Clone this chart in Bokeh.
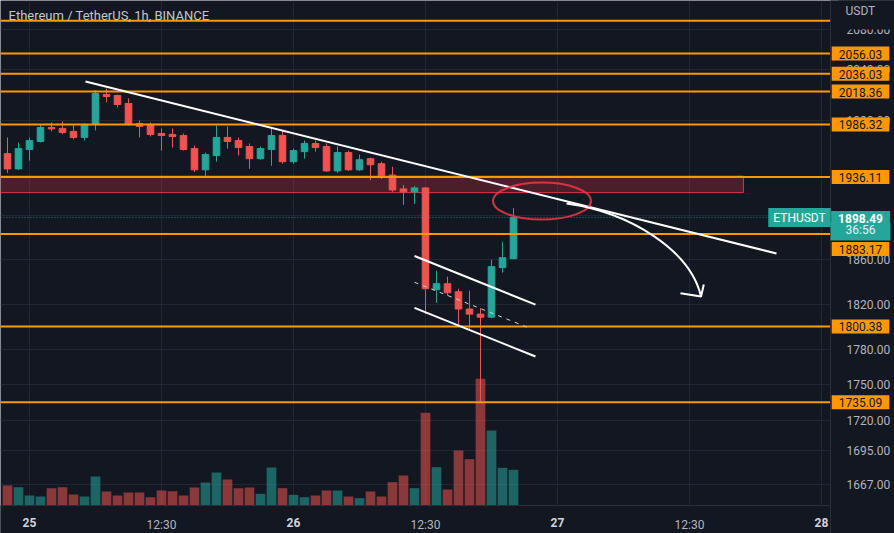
from bokeh.plotting import figure
from bokeh.models import (Range1d, LinearScale, FixedTicker, PrintfTickFormatter,
                          Label, LinearAxis)
from bokeh.embed import file_html
from bokeh.resources import INLINE

# ---------------- data ----------------
hours = list(range(-2, 45))  # bar index, 0 = "25" (00:30)
opens = [1958.3, 1943.8, 1962.2, 1969.9, 1983.4, 1982.5, 1979.6, 1973.8, 1986.3, 2015.4,
         2014.5, 2006.7, 1987.3, 1986.3, 1977.6, 1976.7, 1975.7, 1963.1, 1942.9, 1956.4,
         1973.8, 1970.9, 1965.1, 1953.5, 1962.2, 1975.7, 1950.6, 1960.2, 1968.0, 1965.1,
         1941.9, 1959.3, 1942.9, 1953.5, 1948.7, 1938.0, 1925.0, 1922.2, 1925.9, 1832.8,
         1838.2, 1831.0, 1815.7, 1811.2, 1808.5, 1852.6, 1860.7]
highs = [1973.8, 1968.9, 1973.8, 1986.3, 1988.3, 1989.2, 1986.3, 1987.3, 2019.4, 2021.3,
         2015.4, 2011.6, 1990.2, 1988.3, 1982.5, 1982.5, 1977.6, 1966.0, 1959.3, 1985.4,
         1984.4, 1973.8, 1968.0, 1965.1, 1983.4, 1980.5, 1963.1, 1970.9, 1970.9, 1968.0,
         1965.1, 1961.2, 1957.4, 1954.5, 1950.6, 1945.8, 1928.7, 1927.8, 1926.8, 1849.9,
         1844.5, 1833.7, 1831.9, 1816.6, 1859.8, 1876.0, 1907.3]
lows = [1940.0, 1942.9, 1951.6, 1968.9, 1979.6, 1976.7, 1971.8, 1970.9, 1980.5, 2007.7,
        2002.8, 1985.4, 1973.8, 1974.7, 1961.2, 1964.1, 1961.2, 1940.9, 1937.1, 1950.6,
        1963.1, 1956.4, 1943.8, 1952.5, 1946.7, 1948.7, 1948.7, 1953.5, 1960.2, 1940.9,
        1940.0, 1941.9, 1941.9, 1933.3, 1934.3, 1922.2, 1910.1, 1911.0, 1811.2, 1821.1,
        1827.4, 1800.4, 1797.8, 1735.09, 1807.6, 1848.1, 1860.7]
closes = [1943.8, 1963.1, 1970.9, 1983.4, 1982.0, 1978.6, 1973.8, 1986.3, 2016.4, 2013.5,
          2005.7, 1986.3, 1984.4, 1976.7, 1975.7, 1974.7, 1962.2, 1942.9, 1957.4, 1973.8,
          1969.9, 1964.1, 1953.5, 1963.1, 1975.7, 1950.6, 1961.2, 1968.0, 1964.1, 1941.9,
          1959.3, 1942.9, 1952.5, 1947.7, 1936.1, 1924.0, 1922.2, 1925.9, 1833.7, 1838.2,
          1830.1, 1815.7, 1811.2, 1808.5, 1853.5, 1861.6, 1898.49]
volumes = [3.0, 2.75, 1.5, 1.35, 2.6, 2.75, 1.65, 1.35, 4.35, 2.1,
           1.5, 1.95, 1.95, 1.25, 2.25, 2.15, 1.5, 2.7, 3.45, 4.95,
           3.9, 2.6, 2.7, 1.75, 5.7, 2.6, 1.6, 1.25, 1.5, 2.25,
           2.25, 1.35, 1.1, 2.1, 1.35, 3.5, 4.5, 2.6, 13.9, 5.75,
           2.4, 8.25, 6.95, 19.0, 11.25, 5.65, 5.35]

day_ticks = [0, 24, 48, 72]
day_labels = ["25", "26", "27", "28"]
half_ticks = [12, 36, 60]
half_labels = ["12:30", "12:30", "12:30"]
y_ticks = [1667, 1695, 1720, 1750, 1780, 1820, 1860, 1900, 1990, 2040, 2080]

levels = [2089.0, 2056.03, 2036.03, 2018.36, 1986.32, 1936.11, 1883.17, 1800.38, 1735.09]
labelled_levels = [2056.03, 2036.03, 2018.36, 1986.32, 1936.11, 1883.17, 1800.38, 1735.09]
last_price = 1898.49
countdown = "36:56"
symbol = "ETHUSDT"
currency = "USDT"
title = "Ethereum / TetherUS, 1h, BINANCE"

zone_x = [-10.0, 64.9]
zone_y = [1921.5, 1937.0]

trend_x = [5.09, 67.91]
trend_y = [2028.2, 1865.4]
chan_up_x = [35.0, 46.0]
chan_up_y = [1863.1, 1819.6]
chan_lo_x = [35.0, 46.0]
chan_lo_y = [1816.7, 1774.2]
chan_mid_x = [35.0, 45.64]
chan_mid_y = [1839.5, 1798.2]

ellipse_x, ellipse_y = 46.59, 1913.6
arrow_x = [48.82, 54.64, 60.09, 61.05]      # start, ctrl1, ctrl2, tip
arrow_y = [1911.3, 1903.0, 1868.1, 1826.7]
head_x = [59.18, 61.05, 61.3]
head_y = [1829.7, 1826.7, 1837.4]

# ---------------- layout / styles ----------------
BG = "#131722"
GRID = "#2a2e39"
UP = "#26a69a"
DOWN = "#ef5350"
ORANGE = "#ff9800"
TXT = "#b2b5be"
FONT = "Roboto"

X0, X1 = -29 / 11, 865 / 11          # visible bar range (whole canvas width)
X_AXIS = 801 / 11                    # where the price scale starts
Y_BOT, Y_BASE, Y1 = 1627.8, 1650.1, 2109.8   # canvas bottom, time-scale line, top

p = figure(width=894, height=533, output_backend="svg", toolbar_location=None,
           y_axis_type="log", y_axis_location="right",
           x_range=Range1d(X0, X1), y_range=Range1d(Y_BOT, Y1),
           min_border_left=0, min_border_top=0, min_border_right=0, min_border_bottom=0)
p.background_fill_color = BG
p.border_fill_color = BG
p.outline_line_color = None

p.extra_y_ranges = {"vol": Range1d(-4.2, 75.75)}
p.extra_y_scales = {"vol": LinearScale()}

# axes (all pinned inside the frame)
p.xaxis.ticker = FixedTicker(ticks=day_ticks)
p.xaxis.major_label_overrides = {t: l for t, l in zip(day_ticks, day_labels)}
p.xaxis.bounds = (X0, X_AXIS)
p.xaxis.fixed_location = Y_BASE
p.xaxis.major_label_text_font_style = "bold"
p.xaxis.major_label_text_color = "#d1d4dc"
half_axis = LinearAxis(ticker=FixedTicker(ticks=half_ticks), fixed_location=Y_BASE,
                       major_label_overrides={t: l for t, l in zip(half_ticks, half_labels)})
p.add_layout(half_axis, "below")
half_axis.major_label_text_color = TXT

p.yaxis.ticker = FixedTicker(ticks=y_ticks)
p.yaxis.formatter = PrintfTickFormatter(format="%.2f")
p.yaxis.fixed_location = X_AXIS
p.yaxis.major_label_text_color = TXT
for ax in p.xaxis + p.yaxis:
    ax.axis_line_color = GRID
    ax.major_tick_line_color = None
    ax.minor_tick_line_color = None
    ax.major_label_text_font = FONT
    ax.major_label_text_font_size = "12px"
    ax.major_label_standoff = 6
half_axis.axis_line_color = None
p.yaxis.major_label_standoff = 10
p.xgrid.ticker = FixedTicker(ticks=day_ticks + half_ticks)
p.xgrid.grid_line_color = GRID
p.ygrid.grid_line_color = GRID
p.xgrid.grid_line_alpha = 0.7
p.ygrid.grid_line_alpha = 0.7

# scale backgrounds (hide grid lines inside the price and time scales)
p.quad(left=[X_AXIS], right=[X1 + 1], bottom=[Y_BOT * 0.9], top=[Y1 * 1.1],
       fill_color=BG, line_color=None)
p.quad(left=[X0 - 1], right=[X1 + 1], bottom=[Y_BOT * 0.9], top=[Y_BASE],
       fill_color=BG, line_color=None)

# volume
vcol = [UP if c >= o else DOWN for o, c in zip(opens, closes)]
p.vbar(x=hours, top=volumes, bottom=0, width=0.88, fill_color=vcol, fill_alpha=0.55,
       line_color=None, y_range_name="vol")

# zone
p.quad(left=[zone_x[0]], right=[zone_x[1]], bottom=[zone_y[0]], top=[zone_y[1]],
       fill_color="#f23645", fill_alpha=0.25, line_color="#f23645", line_alpha=0.9, line_width=1)

# candles
p.segment(x0=hours, y0=lows, x1=hours, y1=highs, line_color=vcol, line_width=1)
p.vbar(x=hours, top=[max(o, c) for o, c in zip(opens, closes)],
       bottom=[min(o, c) for o, c in zip(opens, closes)], width=0.6,
       fill_color=vcol, line_color=vcol, line_width=1)

# horizontal levels and last-price line
n = len(levels)
p.segment(x0=[X0] * n, x1=[X_AXIS] * n, y0=levels, y1=levels, line_color=ORANGE, line_width=2)
p.segment(x0=[X0], x1=[X_AXIS], y0=[last_price], y1=[last_price], line_color=UP,
          line_alpha=0.8, line_width=1, line_dash="1 2")

# drawings
lines = [
    p.line(trend_x, trend_y, line_color="white", line_width=2),
    p.line(chan_up_x, chan_up_y, line_color="white", line_width=2),
    p.line(chan_lo_x, chan_lo_y, line_color="white", line_width=2),
    p.line(chan_mid_x, chan_mid_y, line_color="#d1d4dc", line_width=1, line_dash="4 5"),
    p.ellipse(x=[ellipse_x], y=[ellipse_y], width=98, height=37, width_units="screen",
              height_units="screen", fill_color=None, line_color="#f23645", line_alpha=0.85,
              line_width=2),
    p.bezier(x0=[arrow_x[0]], y0=[arrow_y[0]], cx0=[arrow_x[1]], cy0=[arrow_y[1]],
             cx1=[arrow_x[2]], cy1=[arrow_y[2]], x1=[arrow_x[3]], y1=[arrow_y[3]],
             line_color="white", line_width=2),
    p.line(head_x, head_y, line_color="white", line_width=2),
]
for r in lines:
    r.level = "overlay"

# price labels on the scale
for lv in labelled_levels:
    off = -15 if lv == 1883.17 else 0
    p.add_layout(Label(x=860, y=lv, x_units="screen", y_offset=off, text=f"{lv:.2f}",
                       text_align="center", text_baseline="middle", text_font=FONT,
                       text_font_size="12px", text_color="#131722",
                       background_fill_color=ORANGE,
                       padding=dict(left=7, right=7, top=3, bottom=2)))

p.add_layout(Label(x=799, y=last_price, x_units="screen", text=symbol, text_align="center",
                   text_baseline="middle", text_font=FONT, text_font_size="12px",
                   text_color="white", background_fill_color=UP,
                   padding=dict(left=5, right=5, top=3, bottom=2)))
p.add_layout(Label(x=860, y=last_price, x_units="screen", y_offset=-14, text=countdown,
                   text_align="center", text_baseline="middle", text_font=FONT,
                   text_font_size="12px", text_color="#e0f2f1",
                   background_fill_color=UP,
                   padding=dict(left=15, right=15, top=1, bottom=3)))
p.add_layout(Label(x=860, y=last_price, x_units="screen", text=f"{last_price:.2f}",
                   text_align="center", text_baseline="middle", text_font=FONT,
                   text_font_size="12px", text_font_style="bold", text_color="white",
                   background_fill_color=UP,
                   padding=dict(left=7, right=7, top=3, bottom=1)))

# currency & title
p.add_layout(Label(x=838, y=520, x_units="screen", y_units="screen", text=currency,
                   text_align="left", text_baseline="middle", text_font=FONT,
                   text_font_size="12px", text_color=TXT, background_fill_color=BG,
                   padding=dict(left=7, right=28, top=6, bottom=12)))
p.add_layout(Label(x=8, y=518, x_units="screen", y_units="screen", text=title,
                   text_align="left", text_baseline="middle", text_font=FONT,
                   text_font_size="13px", text_color="#c3c6ce"))

open("out.html", "w").write(file_html(p, INLINE))
